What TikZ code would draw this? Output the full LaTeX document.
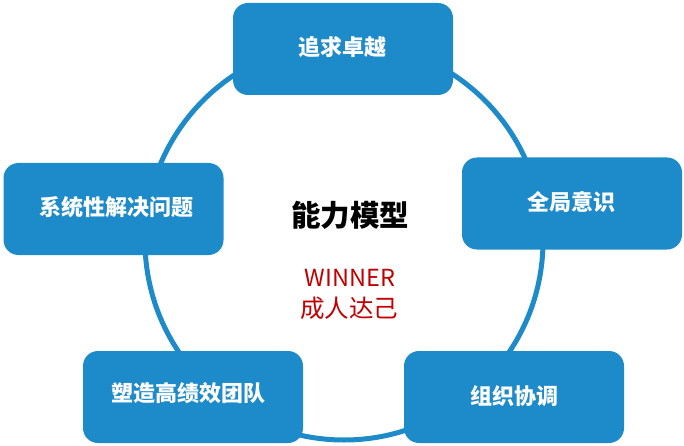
\documentclass[tikz,border=0pt]{standalone}
\usepackage{fontspec}
\newfontfamily\cjk{Noto Sans CJK SC}
\definecolor{boxblue}{RGB}{29,138,201}
\definecolor{darkred}{RGB}{192,0,0}
\begin{document}
\begin{tikzpicture}[x=1pt,y=-1pt,
  box/.style={fill=boxblue,draw=none,rounded corners=15pt,minimum width=220pt,minimum height=92pt,inner sep=0pt},
  boxtext/.style={text=white,font=\cjk\bfseries\fontsize{22}{24}\selectfont,inner sep=0pt},
  ring/.style={draw=boxblue,line width=5pt}]
\useasboundingbox (0,0) rectangle (684,446);
\coordinate (c) at (344,241);
\draw[ring] (c) circle[radius=199pt];
\node[box] (b1) at (343,49) {};
\node[box] (b2) at (572,203.5) {};
\node[box] (b3) at (514,397) {};
\node[box] (b4) at (193,397) {};
\node[box] (b5) at (113.5,209) {};
\node[boxtext] (t1) at (342.5,47) {追求卓越};
\node[boxtext] (t2) at (571.5,202) {全局意识};
\node[boxtext] (t3) at (514,396) {组织协调};
\node[boxtext] (t4) at (188,393) {塑造高绩效团队};
\node[boxtext] (t5) at (116,207) {系统性解决问题};
\node[font=\cjk\bfseries\fontsize{29.5}{32}\selectfont,inner sep=0pt] (m) at (350,215) {能力模型};
\node[text=darkred,font=\cjk\fontsize{23.5}{26}\selectfont,inner sep=0pt] (w) at (350,278) {WINNER};
\node[text=darkred,font=\cjk\fontsize{24.5}{26}\selectfont,inner sep=0pt] (cr) at (349,308) {成人达己};
\end{tikzpicture}
\end{document}
